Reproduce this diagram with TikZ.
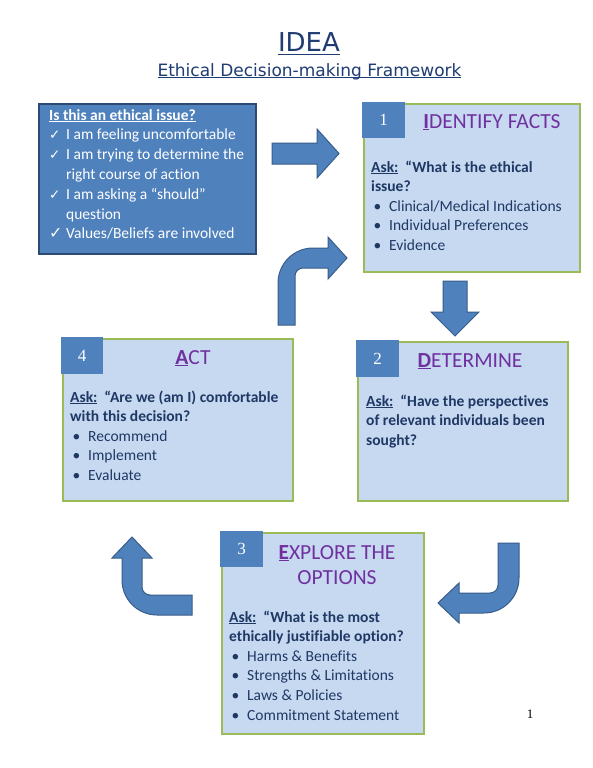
\documentclass[tikz,border=0pt]{standalone}
\usepackage{fontspec}
\setmainfont{Carlito}[Ligatures={NoCommon}]
\newfontfamily\titlefont{DejaVu Sans}
\newfontfamily\numfont{Liberation Serif}
\newfontfamily\chkfont{DejaVu Sans}
\definecolor{bfill}{HTML}{C6D9F1}
\definecolor{bgreen}{HTML}{9BBB59}
\definecolor{mblue}{HTML}{4F81BD}
\definecolor{dblue}{HTML}{385D8A}
\definecolor{dkb}{HTML}{2C4A74}
\definecolor{navy}{HTML}{1F3864}
\definecolor{purp}{HTML}{7030A0}
\definecolor{ttl}{HTML}{1F3C73}
\newcommand{\ulx}[2][1.8pt]{\setbox0\hbox{#2}\rlap{\rule[-#1]{\wd0}{0.9pt}}\box0}
\newcommand{\bitem}[1]{\makebox[18pt][l]{\hspace{2.5pt}•}#1}
\newcommand{\citem}[1]{\makebox[17pt][l]{\chkfont\fontsize{13.5}{13.5}\selectfont ✓}#1}
\begin{document}
\begin{tikzpicture}[x=1pt,y=-1pt,
  panel/.style={draw=bgreen, fill=bfill, line width=2pt, inner sep=0, anchor=north west},
  numsq/.style={fill=mblue, inner sep=0, anchor=north west},
  numtxt/.style={text=white, font=\numfont\fontsize{17}{17}\selectfont, inner sep=0},
  head/.style={text=purp, font=\fontsize{21.5}{25}\selectfont, anchor=base, align=center, inner sep=0},
  body/.style={text=navy, font=\fontsize{15.5}{19.6}\selectfont, anchor=base west, align=left, inner sep=0},
  lbody/.style={text=white, font=\fontsize{15.5}{19.8}\selectfont, anchor=base west, align=left, inner sep=0},
  barrow/.style={fill=mblue, draw=dblue, line width=1pt, line join=miter}]
\useasboundingbox (0,0) rectangle (593,768);
\fill[white] (0,0) rectangle (593,768);

% title
\node[font=\titlefont\fontsize{26}{26}\selectfont, text=ttl, anchor=base, inner sep=0] (t1) at (309,52) {\ulx[3pt]{IDEA}};
\node[font=\titlefont\fontsize{17}{17}\selectfont, text=ttl, anchor=base, inner sep=0] (t2) at (309.5,76) {\ulx[2pt]{Ethical Decision-making Framework}};

% left question box (base anchor = last line)
\node[fill=mblue, draw=dkb, line width=1.5pt, inner sep=0, anchor=north west, minimum width=217pt, minimum height=150pt] (q) at (38,103) {};
\node[lbody] (qt) at (49,238.8) {\ulx{\textbf{Is this an ethical issue?}}\\
\citem{I am feeling uncomfortable}\\
\citem{I am trying to determine the}\\
\hspace*{17pt}right course of action\\
\citem{I am asking a “should”}\\
\hspace*{17pt}question\\
\makebox[17pt][l]{\chkfont\fontsize{16}{16}\selectfont ✓}Values/Beliefs are involved};

% box 1
\node[panel, minimum width=216pt, minimum height=168pt] (p1) at (363,103) {};
\node[numsq, minimum width=43pt, minimum height=36pt] (n1) at (362,102) {};
\node[numtxt] (n1t) at (n1.center) {1};
\node[head] (h1) at (492,128) {\ulx{\textbf{I}}DENTIFY FACTS};
\node[body] (b1) at (371,250.4) {\ulx{\textbf{Ask:}}\hspace{7pt}\textbf{“What is the ethical}\\
\textbf{issue?}\\
\bitem{Clinical/Medical Indications}\\
\bitem{Individual Preferences}\\
\bitem{Evidence}};

% box 2
\node[panel, minimum width=210pt, minimum height=159pt] (p2) at (357,341) {};
\node[numsq, minimum width=43pt, minimum height=37pt] (n2) at (356,340) {};
\node[numtxt] (n2t) at (n2.center) {2};
\node[head] (h2) at (470,367) {\ulx{\textbf{D}}ETERMINE};
\node[body] (b2) at (366,445.2) {\ulx{\textbf{Ask:}}\hspace{7pt}\textbf{“Have the perspectives}\\
\textbf{of relevant individuals been}\\
\textbf{sought?}};

% box 4
\node[panel, minimum width=230pt, minimum height=162pt] (p4) at (62,338) {};
\node[numsq, minimum width=42pt, minimum height=37pt] (n4) at (61,337) {};
\node[numtxt] (n4t) at (n4.center) {4};
\node[head] (h4) at (193,364) {\ulx{\textbf{A}}CT};
\node[body] (b4) at (70,480.4) {\ulx{\textbf{Ask:}}\hspace{7pt}\textbf{“Are we (am I) comfortable}\\
\textbf{with this decision?}\\
\bitem{Recommend}\\
\bitem{Implement}\\
\bitem{Evaluate}};

% box 3
\node[panel, minimum width=202pt, minimum height=201pt] (p3) at (221,532) {};
\node[numsq, minimum width=43pt, minimum height=36pt] (n3) at (220,531) {};
\node[numtxt] (n3t) at (n3.center) {3};
\node[head] (h3) at (337,584) {\ulx{\textbf{E}}XPLORE THE\\OPTIONS};
\node[body] (b3) at (229,720) {\ulx{\textbf{Ask:}}\hspace{7pt}\textbf{“What is the most}\\
\textbf{ethically justifiable option?}\\
\bitem{Harms \& Benefits}\\
\bitem{Strengths \& Limitations}\\
\bitem{Laws \& Policies}\\
\bitem{Commitment Statement}};

% block arrows
\filldraw[barrow] (272,143) -- (317,143) -- (317,129) -- (339,153.5) -- (317,178) -- (317,164) -- (272,164) -- cycle;
\filldraw[barrow] (443,281) -- (467,281) -- (467,312) -- (479,312) -- (455,336) -- (431,312) -- (443,312) -- cycle;
\filldraw[barrow] (278,325) -- (278,283) .. controls (278,263.7) and (293.7,248) .. (313,248) -- (328,248) -- (328,237) -- (347,258) -- (328,279) -- (328,268) -- (303,268) .. controls (298.6,268) and (295,271.6) .. (295,276) -- (295,325) -- cycle;
\filldraw[barrow] (519,543) -- (519,578) .. controls (519,597.3) and (503.3,613) .. (484,613) -- (459,613) -- (459,623) -- (438,603) -- (459,583) -- (459,593) -- (490,593) .. controls (494.4,593) and (498,589.4) .. (498,585) -- (498,543) -- cycle;
\filldraw[barrow] (132,537) -- (152,558) -- (142,558) -- (142,587) .. controls (142,591.4) and (145.6,595) .. (150,595) -- (192,595) -- (192,615) -- (157,615) .. controls (137.7,615) and (122,599.3) .. (122,580) -- (122,558) -- (112,558) -- cycle;

% page number
\node[font=\numfont\fontsize{13}{13}\selectfont, inner sep=0] (pg) at (530,714) {1};
\end{tikzpicture}
\end{document}
